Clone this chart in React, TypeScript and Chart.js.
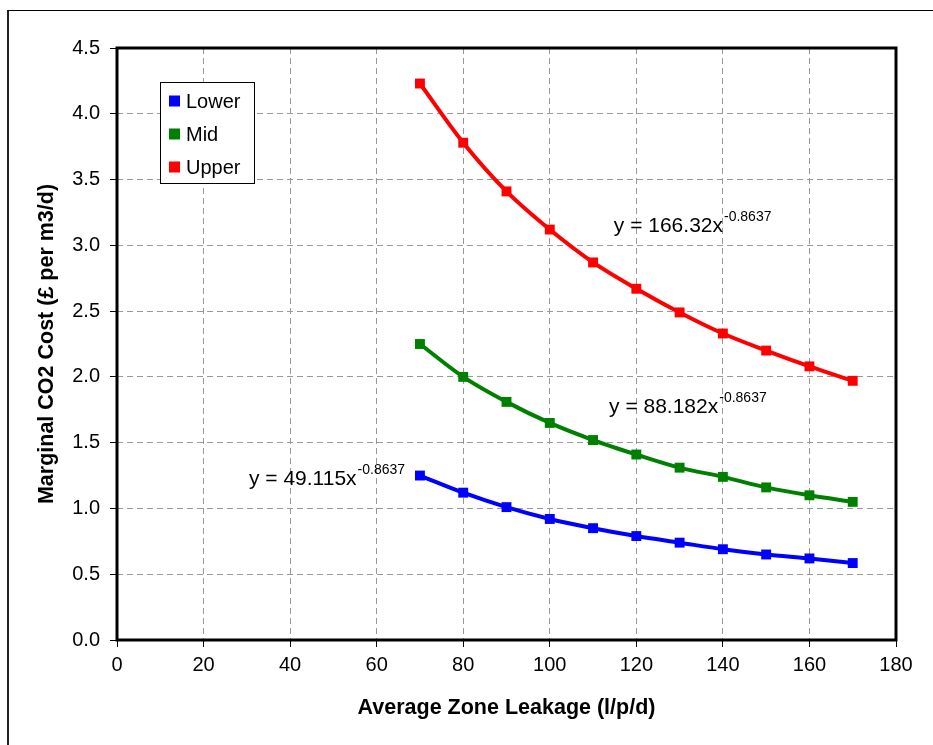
import React, { useEffect, useRef } from 'react';
import { Chart, registerables } from 'chart.js';

Chart.register(...registerables);

const xValues = [70, 80, 90, 100, 110, 120, 130, 140, 150, 160, 170];
const lowerValues = [1.25, 1.12, 1.01, 0.92, 0.85, 0.79, 0.74, 0.69, 0.65, 0.62, 0.585];
const midValues = [2.25, 2.0, 1.81, 1.65, 1.52, 1.41, 1.31, 1.24, 1.16, 1.1, 1.05];
const upperValues = [4.23, 3.78, 3.41, 3.12, 2.87, 2.67, 2.49, 2.33, 2.2, 2.08, 1.97];
const seriesNames = ['Lower', 'Mid', 'Upper'];
const seriesColors = ['#0000FF', '#008000', '#FF0000'];
const eqCoefs = ['49.115', '88.182', '166.32'];
const eqExponent = '-0.8637';
const eqAnchorX = [30.5, 113.7, 114.8];
const eqAnchorY = [1.178, 1.725, 3.1];
const xTitle = 'Average Zone Leakage (l/p/d)';
const yTitle = 'Marginal CO2 Cost (£ per m3/d)';

const FONT = "'Liberation Sans', Arial, sans-serif";

const overlayPlugin = {
  id: 'overlay',
  beforeDatasetsDraw(chart: any) {
    const { ctx, chartArea } = chart;
    ctx.save();
    ctx.strokeStyle = '#000';
    ctx.lineWidth = 3;
    ctx.strokeRect(chartArea.left, chartArea.top, chartArea.right - chartArea.left, chartArea.bottom - chartArea.top);
    ctx.restore();
  },
  afterDraw(chart: any) {
    const { ctx, chartArea, scales } = chart;
    ctx.save();
    ctx.fillStyle = '#000';
    ctx.textBaseline = 'alphabetic';
    ctx.textAlign = 'left';
    for (let i = 0; i < eqCoefs.length; i++) {
      const px = scales.x.getPixelForValue(eqAnchorX[i]);
      const py = scales.y.getPixelForValue(eqAnchorY[i]);
      ctx.font = `21px ${FONT}`;
      const main = 'y = ' + eqCoefs[i] + 'x';
      ctx.fillText(main, px, py);
      const w = ctx.measureText(main).width;
      ctx.font = `14px ${FONT}`;
      ctx.fillText(eqExponent, px + w + 1, py - 11);
    }
    const lx = chartArea.left + 43;
    const ly = chartArea.top + 34;
    const lw = 94;
    const lh = 101;
    ctx.fillStyle = '#fff';
    ctx.fillRect(lx, ly, lw, lh);
    ctx.strokeStyle = '#000';
    ctx.lineWidth = 1;
    ctx.strokeRect(lx + 0.5, ly + 0.5, lw, lh);
    ctx.font = `20px ${FONT}`;
    ctx.textBaseline = 'middle';
    chart.data.datasets.forEach((ds: any, i: number) => {
      const cy = ly + 19 + i * 33;
      ctx.fillStyle = ds.borderColor;
      ctx.fillRect(lx + 9, cy - 5.5, 11, 11);
      ctx.fillStyle = '#000';
      ctx.fillText(ds.label, lx + 26, cy + 1);
    });
    ctx.restore();
  },
};

export default function App() {
  const ref = useRef<HTMLCanvasElement>(null);
  useEffect(() => {
    if (!ref.current) return;
    const seriesValues = [lowerValues, midValues, upperValues];
    const chart = new Chart(ref.current, {
      type: 'line',
      data: {
        datasets: seriesNames.map((name, i) => ({
          label: name,
          data: xValues.map((x, j) => ({ x, y: seriesValues[i][j] })),
          borderColor: seriesColors[i],
          backgroundColor: seriesColors[i],
          borderWidth: 4,
          pointStyle: 'rect',
          pointRadius: 7,
          pointBorderWidth: 0,
          cubicInterpolationMode: 'monotone',
          fill: false,
        })),
      },
      options: {
        responsive: false,
        animation: false,
        devicePixelRatio: 1,
        layout: { padding: { left: 0, top: 40, right: 37, bottom: 0 } },
        plugins: { legend: { display: false }, tooltip: { enabled: false } },
        scales: {
          x: {
            type: 'linear',
            min: 0,
            max: 180,
            ticks: { stepSize: 20, color: '#000', font: { family: FONT, size: 20 }, padding: 6, maxRotation: 0 },
            grid: { color: '#999', lineWidth: 1, tickLength: 7, tickColor: '#000', tickWidth: 1 },
            border: { display: false, dash: [6, 4] },
            title: { display: true, text: xTitle, color: '#000', font: { family: FONT, size: 21.5, weight: 'bold' }, padding: { top: 0, bottom: 16 } },
            afterFit: (s: any) => { s.height = 97; },
          },
          y: {
            type: 'linear',
            min: 0,
            max: 4.5,
            ticks: { stepSize: 0.5, color: '#000', font: { family: FONT, size: 20 }, padding: 10, callback: (v: any) => Number(v).toFixed(1) },
            grid: { color: '#999', lineWidth: 1, tickLength: 7, tickColor: '#000', tickWidth: 1 },
            border: { display: false, dash: [6, 4] },
            title: { display: true, text: yTitle, color: '#000', font: { family: FONT, size: 21.5, weight: 'bold' }, padding: { top: 26, bottom: 0 } },
            afterFit: (s: any) => { s.width = 109; },
          },
        },
      } as any,
      plugins: [overlayPlugin],
    });
    return () => chart.destroy();
  }, []);

  return (
    <div style={{ position: 'relative', width: 917, height: 729 }}>
      <div style={{ position: 'fixed', left: 7, top: 10, width: 1000, height: 1000, borderTop: '1px solid #000', borderLeft: '2px solid #222' }} />
      <canvas ref={ref} width={925} height={729} style={{ position: 'absolute', left: 0, top: 0, width: 925, height: 729 }} />
    </div>
  );
}
